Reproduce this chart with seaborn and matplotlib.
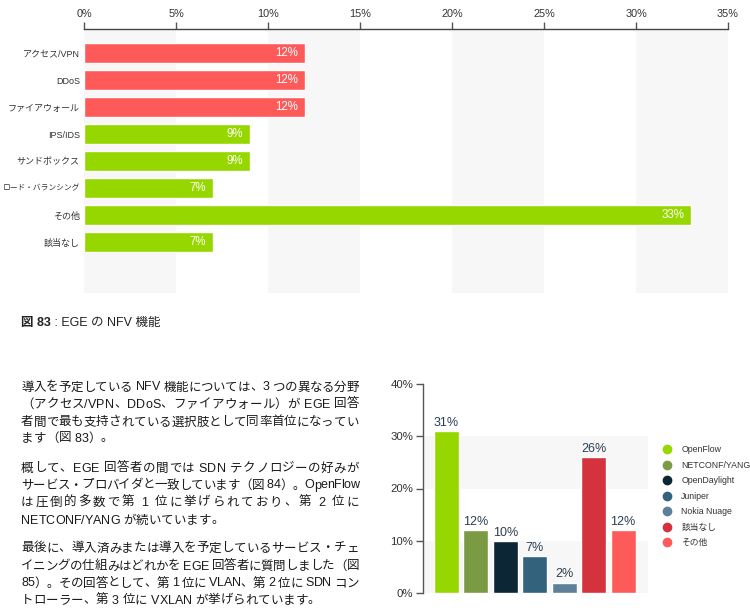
import matplotlib
matplotlib.use('Agg')
import matplotlib.pyplot as plt
import seaborn as sns
import pandas as pd
from matplotlib.lines import Line2D
from matplotlib.font_manager import FontProperties

sns.set_theme(style='white')
FAM = ['Liberation Sans', 'Noto Sans CJK JP', 'DejaVu Sans']
plt.rcParams['font.family'] = FAM

# ---------------- data ----------------
nfv_labels = ['アクセス/VPN', 'DDoS', 'ファイアウォール', 'IPS/IDS', 'サンドボックス',
              'ロード・バランシング', 'その他', '該当なし']
nfv_values = [12, 12, 12, 9, 9, 7, 33, 7]
nfv_colors = ['#ff5a5a', '#ff5a5a', '#ff5a5a', '#97d700', '#97d700', '#97d700', '#97d700', '#97d700']
nfv_ticks = [0, 5, 10, 15, 20, 25, 30, 35]

sdn_labels = ['OpenFlow', 'NETCONF/YANG', 'OpenDaylight', 'Juniper', 'Nokia Nuage', '該当なし', 'その他']
sdn_values = [31, 12, 10, 7, 2, 26, 12]
sdn_colors = ['#97d700', '#7a9a44', '#0c2636', '#33627c', '#5d7f98', '#d4323c', '#ff5a5a']
sdn_ticks = [0, 10, 20, 30, 40]

caption_bold = '図 83'
caption_rest = ' : EGE の NFV 機能'

paragraphs = [
    ['導入を予定している NFV 機能については、3 つの異なる分野',
     '（アクセス/VPN、DDoS、ファイアウォール）が EGE 回答',
     '者間で最も支持されている選択肢として同率首位になってい',
     'ます（図 83）。'],
    ['概して、EGE 回答者の間では SDN テクノロジーの好みが',
     'サービス・プロバイダと一致しています（図 84）。OpenFlow',
     'は圧倒的多数で第 1 位に挙げられており、第 2 位に',
     'NETCONF/YANG が続いています。'],
    ['最後に、導入済みまたは導入を予定しているサービス・チェ',
     'イニングの仕組みはどれかを EGE 回答者に質問しました（図',
     '85）。その回答として、第 1 位に VLAN、第 2 位に SDN コン',
     'トローラー、第 3 位に VXLAN が挙げられています。'],
]
para_line_y = [[386, 403, 421, 437], [467, 484, 501, 519], [547, 565, 582, 599]]

# ---------------- figure ----------------
W, H = 750, 613
fig = plt.figure(figsize=(7.5, 6.13), dpi=100)
fig.patch.set_facecolor('white')


def fx(px):
    return px / W


def fy(py):
    return 1 - py / H


# ---- top horizontal bar chart ----
ax1 = fig.add_axes([fx(84), fy(293), fx(728) - fx(84), fy(29) - fy(293)])
for a, b in [(0, 5), (10, 15), (20, 25), (30, 35)]:
    ax1.axvspan(a, b, color='#f7f7f7', lw=0, zorder=0)
df1 = pd.DataFrame({'label': nfv_labels, 'value': nfv_values})
sns.barplot(data=df1, x='value', y='label', hue='label', orient='h',
            palette=dict(zip(nfv_labels, nfv_colors)), width=0.76, saturation=1,
            legend=False, ax=ax1, zorder=2)
ax1.set_xlim(0, 35)
ax1.set_ylim(8.89, -0.89)
ax1.xaxis.tick_top()
ax1.set_xticks(nfv_ticks)
ax1.set_xticklabels([f'{t}%' for t in nfv_ticks])
ax1.tick_params(axis='x', top=True, bottom=False, length=5, width=1, color='#555555',
                labelsize=7.8, labelcolor='#333333', pad=2, direction='out')
ax1.tick_params(axis='y', left=False, length=0, labelsize=6.5, labelcolor='#333333', pad=3)
for lab in ax1.get_yticklabels():
    if len(lab.get_text()) > 8:
        lab.set_fontsize(5.6)
for s in ['left', 'right', 'bottom']:
    ax1.spines[s].set_visible(False)
ax1.spines['top'].set_color('#444444')
ax1.spines['top'].set_linewidth(1)
ax1.set_xlabel('')
ax1.set_ylabel('')
for i, v in enumerate(nfv_values):
    ax1.annotate(f'{v}%', xy=(v, i), xytext=(-5, 0), textcoords='offset points',
                 ha='right', va='center', color='white', fontsize=8.3, zorder=3)

# ---- bottom vertical bar chart ----
ax2 = fig.add_axes([fx(423), fy(593), fx(648) - fx(423), fy(384) - fy(593)])
for a, b in [(0, 10), (20, 30)]:
    ax2.axhspan(a, b, color='#f7f7f7', lw=0, zorder=0)
df2 = pd.DataFrame({'label': sdn_labels, 'value': sdn_values})
sns.barplot(data=df2, x='label', y='value', hue='label',
            palette=dict(zip(sdn_labels, sdn_colors)), width=0.85, saturation=1,
            legend=False, ax=ax2, zorder=2)
ax2.set_xlim(-0.8, 6.85)
ax2.set_ylim(0, 40)
ax2.set_xticks([])
ax2.set_yticks(sdn_ticks)
ax2.set_yticklabels([f'{t}%' for t in sdn_ticks])
ax2.tick_params(axis='y', left=True, length=5, width=1, color='#555555',
                labelsize=8.2, labelcolor='#333333', pad=2, direction='out')
for s in ['top', 'right', 'bottom']:
    ax2.spines[s].set_visible(False)
ax2.spines['left'].set_color('#555555')
ax2.spines['left'].set_linewidth(1)
ax2.set_xlabel('')
ax2.set_ylabel('')
for i, v in enumerate(sdn_values):
    ax2.annotate(f'{v}%', xy=(i, v), xytext=(0, 1.5), textcoords='offset points',
                 ha='center', va='bottom', color='#2c3e50', fontsize=9, zorder=3)

handles = [Line2D([], [], marker='o', ls='', color=c, markersize=6) for c in sdn_colors]
ax2.legend(handles, sdn_labels, loc='upper left', bbox_to_anchor=(fx(663), fy(445.5)),
           bbox_transform=fig.transFigure, frameon=False, fontsize=6.3, handlelength=1,
           handletextpad=1.1, labelspacing=0.74, borderpad=0, borderaxespad=0,
           labelcolor='#333333')

# ---- caption and body text ----
renderer = fig.canvas.get_renderer()
prop = FontProperties(family=FAM, size=9)
prop_b = FontProperties(family=FAM, size=9, weight='bold')


def text_w(s, p):
    w, _, _ = renderer.get_text_width_height_descent(s, p, ismath=False)
    return w


def char_w(c, p):
    return text_w('|' + c + '|', p) - text_w('||', p)


cap_base = 326
fig.text(fx(21), fy(cap_base), caption_bold, fontproperties=prop_b, color='#222222',
         ha='left', va='baseline')
bw = char_w(caption_bold, prop_b)
fig.text(fx(21 + bw), fy(cap_base), caption_rest, fontproperties=prop, color='#222222',
         ha='left', va='baseline')

LEFT, RIGHT = 21, 359
for lines, ys in zip(paragraphs, para_line_y):
    for k, (line, yc) in enumerate(zip(lines, ys)):
        widths = [char_w(c, prop) for c in line]
        total = sum(widths)
        last = (k == len(lines) - 1)
        extra = 0 if last else (RIGHT - LEFT - total) / (len(line) - 1)
        x = LEFT
        base = yc + 4.5
        for c, w in zip(line, widths):
            if c != ' ':
                fig.text(fx(x), fy(base), c, fontproperties=prop, color='#1a1a1a',
                         ha='left', va='baseline')
            x += w + extra

fig.savefig('out.png', dpi=100)
